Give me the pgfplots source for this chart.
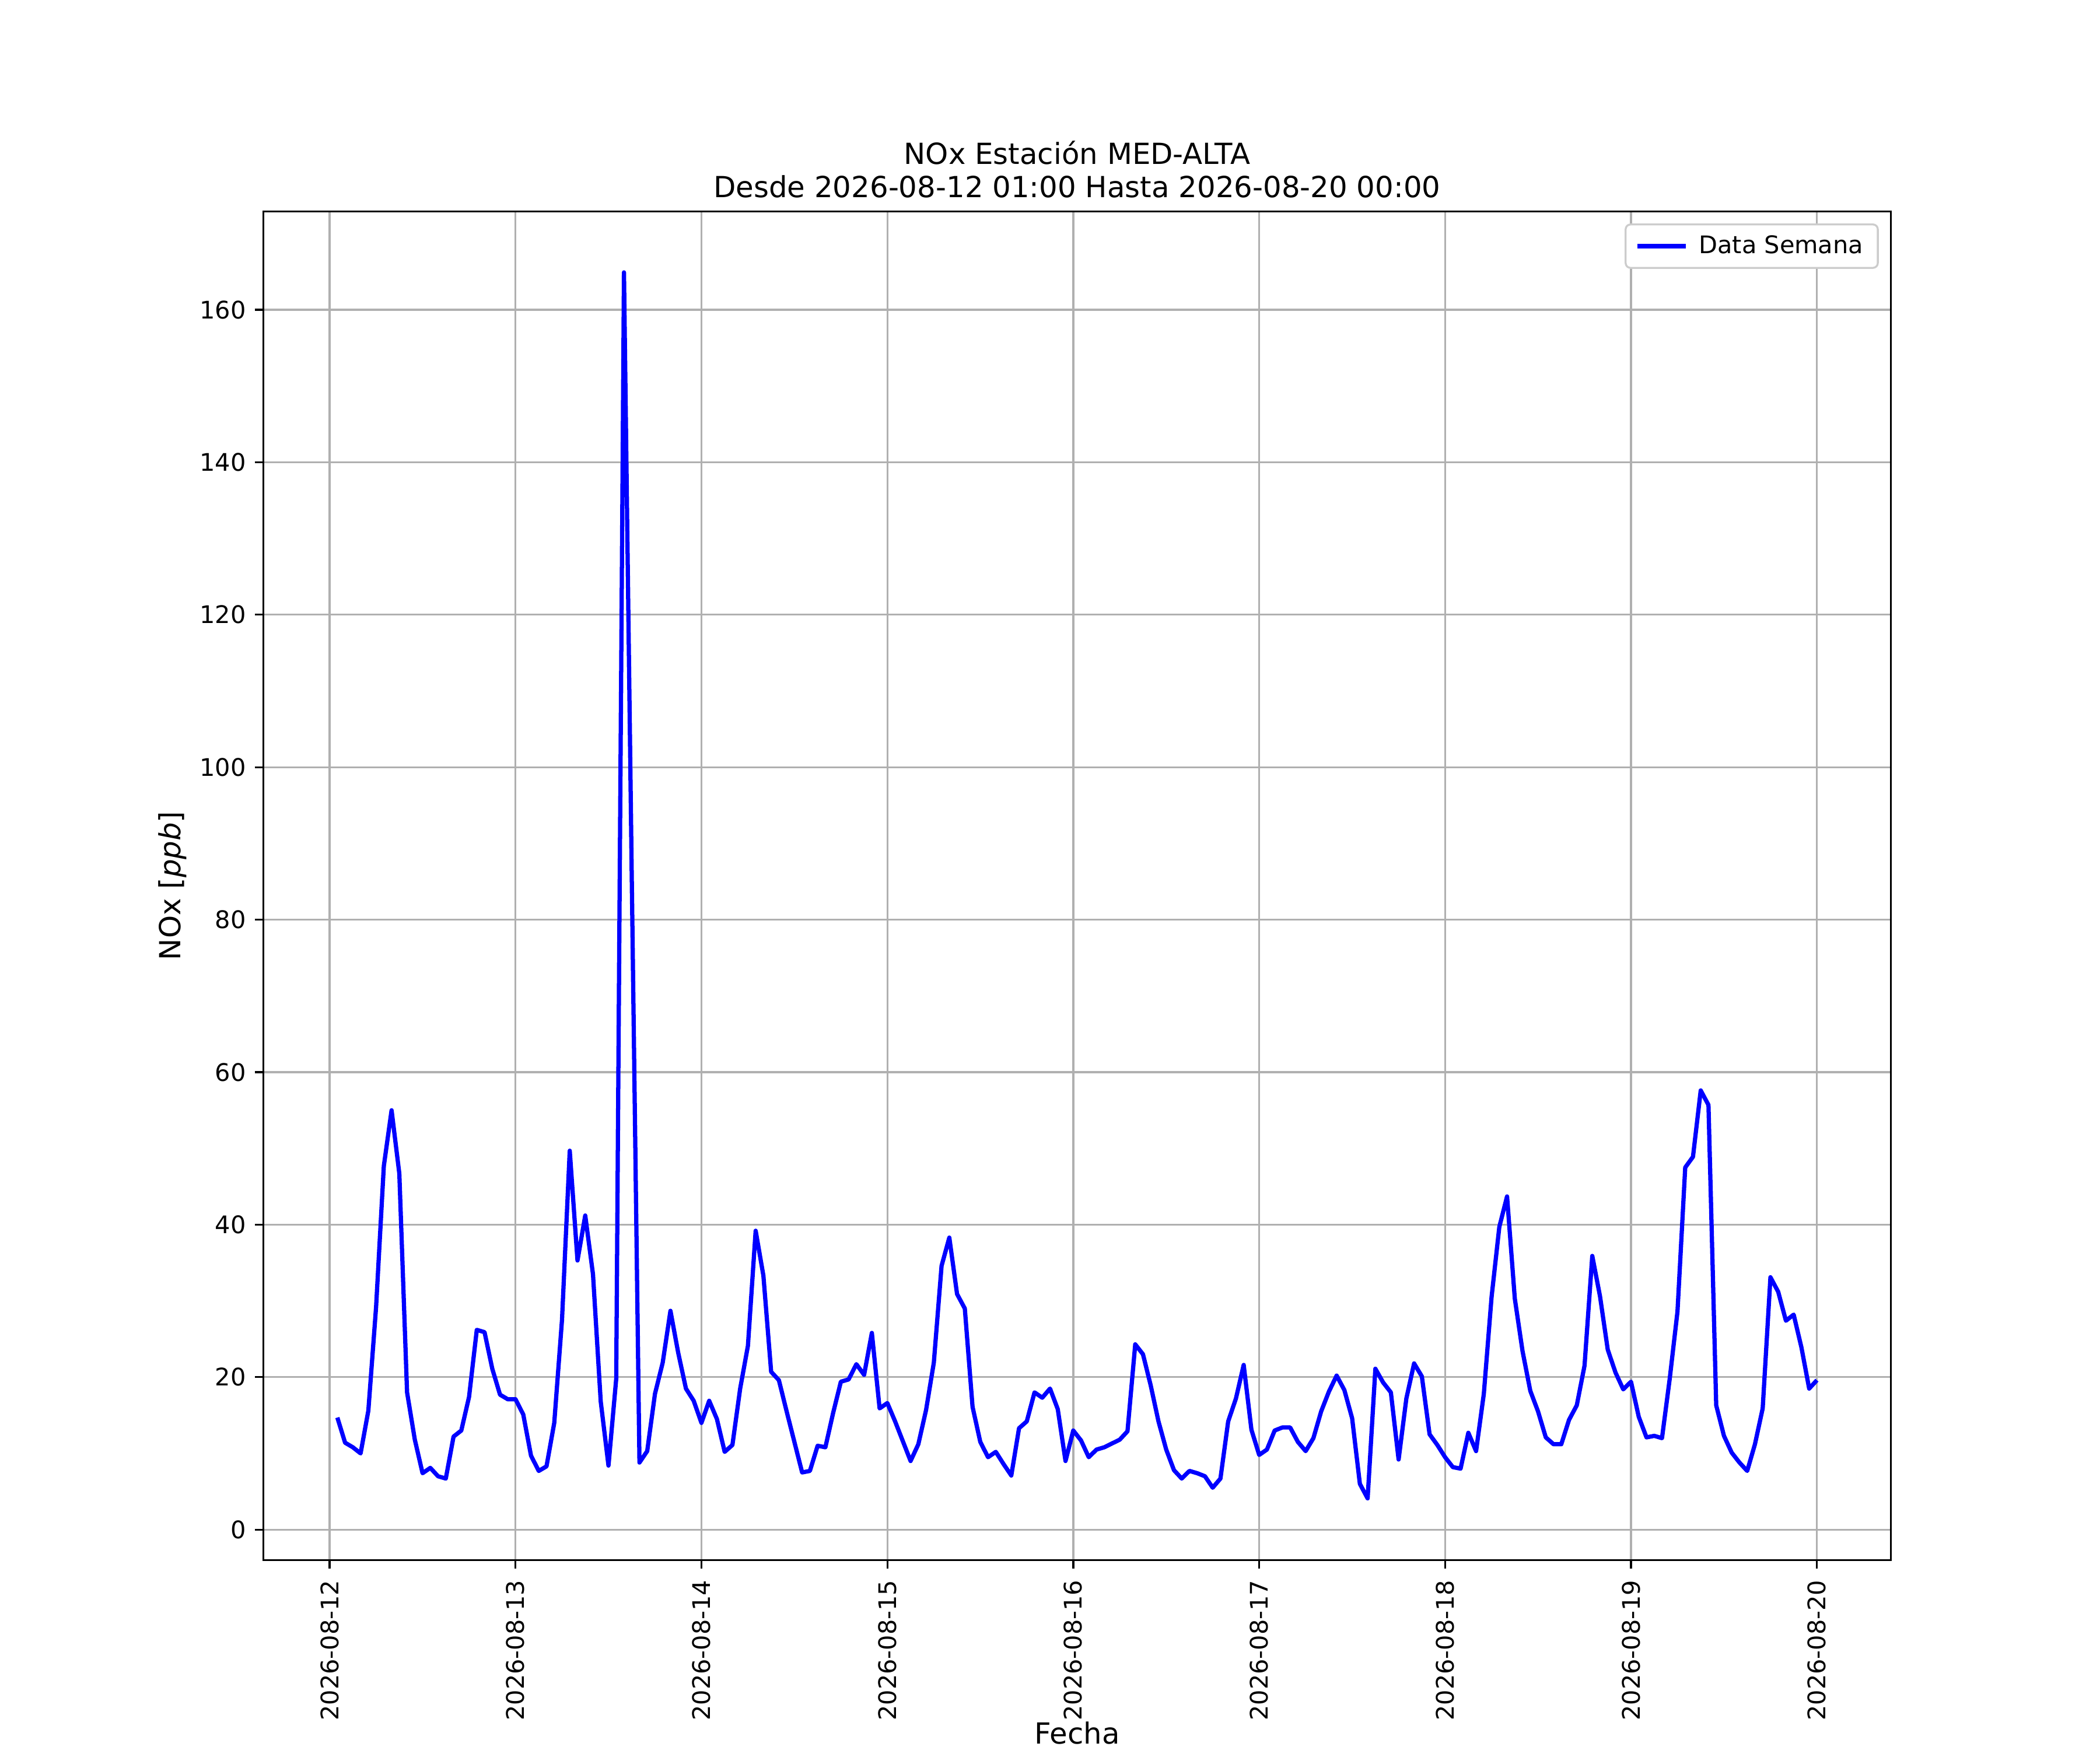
\documentclass[border=0pt]{standalone}
\usepackage{fontspec}
\setmainfont{DejaVu Sans}
\usepackage{pgfplots}
\usepackage{pgfplotstable}
\pgfplotsset{compat=1.18}
\definecolor{gridgray}{HTML}{B0B0B0}
\definecolor{legframe}{HTML}{CCCCCC}

\pgfplotstableread{
x y
1 14.7
2 11.4
3 10.8
4 10.0
5 15.6
6 29.2
7 47.7
8 55.0
9 46.7
10 18.0
11 11.8
12 7.4
13 8.1
14 7.0
15 6.7
16 12.2
17 13.0
18 17.4
19 26.2
20 25.9
21 21.1
22 17.7
23 17.1
24 17.1
25 15.1
26 9.7
27 7.7
28 8.3
29 14.0
30 27.5
31 49.7
32 35.3
33 41.2
34 33.5
35 16.8
36 8.4
37 19.8
38 164.9
39 86.0
40 8.8
41 10.3
42 17.8
43 21.9
44 28.7
45 23.2
46 18.5
47 16.9
48 14.0
49 16.9
50 14.5
51 10.2
52 11.1
53 18.5
54 24.1
55 39.2
56 33.3
57 20.7
58 19.6
59 15.5
60 11.5
61 7.5
62 7.7
63 11.0
64 10.8
65 15.3
66 19.4
67 19.7
68 21.7
69 20.3
70 25.8
71 15.9
72 16.6
73 14.2
74 11.6
75 9.0
76 11.2
77 15.7
78 21.9
79 34.6
80 38.3
81 30.9
82 29.0
83 16.1
84 11.5
85 9.5
86 10.2
87 8.6
88 7.1
89 13.3
90 14.2
91 18.0
92 17.3
93 18.5
94 15.8
95 9.0
96 13.0
97 11.7
98 9.5
99 10.5
100 10.8
101 11.3
102 11.8
103 12.9
104 24.3
105 23.0
106 18.9
107 14.2
108 10.5
109 7.8
110 6.7
111 7.7
112 7.4
113 7.0
114 5.5
115 6.7
116 14.2
117 17.2
118 21.6
119 13.1
120 9.8
121 10.5
122 13.0
123 13.4
124 13.4
125 11.5
126 10.3
127 12.0
128 15.5
129 18.1
130 20.2
131 18.3
132 14.6
133 6.0
134 4.1
135 21.1
136 19.3
137 18.0
138 9.2
139 17.2
140 21.8
141 20.1
142 12.5
143 11.1
144 9.5
145 8.2
146 8.0
147 12.7
148 10.3
149 17.8
150 30.5
151 39.7
152 43.7
153 30.3
154 23.4
155 18.2
156 15.5
157 12.1
158 11.2
159 11.2
160 14.4
161 16.3
162 21.5
163 35.9
164 30.6
165 23.6
166 20.6
167 18.4
168 19.4
169 14.8
170 12.1
171 12.3
172 12.0
173 19.8
174 28.6
175 47.5
176 48.9
177 57.6
178 55.7
179 16.3
180 12.3
181 10.1
182 8.8
183 7.7
184 11.2
185 15.9
186 33.1
187 31.2
188 27.4
189 28.2
190 23.9
191 18.5
192 19.6
}\datatable

\begin{document}
\begin{tikzpicture}
\useasboundingbox (0,0) rectangle (12in,10in);
\begin{axis}[
  at={(1.505in,1.085in)}, anchor=south west,
  scale only axis,
  width=9.30in, height=7.707in,
  xmin=-8.55, xmax=201.55,
  ymin=-4.0, ymax=172.9,
  xtick={0,24,48,72,96,120,144,168,192},
  xticklabels={2026-08-12,2026-08-13,2026-08-14,2026-08-15,2026-08-16,2026-08-17,2026-08-18,2026-08-19,2026-08-20},
  ytick={0,20,40,60,80,100,120,140,160},
  /pgf/number format/assume math mode=true,
  tick align=outside,
  xtick pos=bottom, ytick pos=left,
  major tick length=3.5pt,
  every tick/.style={black, line width=0.8pt},
  axis line style={line width=0.8pt},
  grid=major,
  major grid style={color=gridgray, line width=0.8pt},
  tick label style={font=\fontsize{10}{12}\selectfont},
  xticklabel style={rotate=90, anchor=east, inner sep=0pt},
  yticklabel style={inner sep=0pt},
  xticklabel shift=4.5pt,
  yticklabel shift=3.5pt,
  title={NOx Estación MED-ALTA\\Desde 2026-08-12 01:00 Hasta 2026-08-20 00:00},
  title style={at={(axis description cs:0.5,1)}, anchor=south, inner sep=0pt, yshift=-0.5pt, align=center, font=\fontsize{12}{13.6}\selectfont},
  xlabel={Fecha},
  xlabel style={at={(axis description cs:0.5,0)}, anchor=base, inner sep=0pt, yshift=-76pt, font=\fontsize{12}{14}\selectfont},
  ylabel={NOx [\textit{ppb}]},
  ylabel style={at={(axis description cs:-0.0557,0.5)}, anchor=center, inner sep=0pt, font=\fontsize{12}{14}\selectfont},
  legend style={at={(axis description cs:1,1)}, anchor=north east, xshift=-5pt, yshift=-5pt,
    draw=legframe, line width=0.8pt, rounded corners=2pt, fill=white,
    font=\fontsize{10}{12}\selectfont, inner xsep=4pt, inner ysep=2.5pt,
    /tikz/every odd column/.append style={column sep=2.5pt}},
  legend cell align=left,
  legend image code/.code={\draw[#1, line cap=butt] (0pt,0pt) -- (20pt,0pt);},
]
\addplot[color=blue, line width=1.75pt, line join=round] table[x=x, y=y] {\datatable};
\addlegendentry{Data Semana}
\end{axis}
\end{tikzpicture}
\end{document}
